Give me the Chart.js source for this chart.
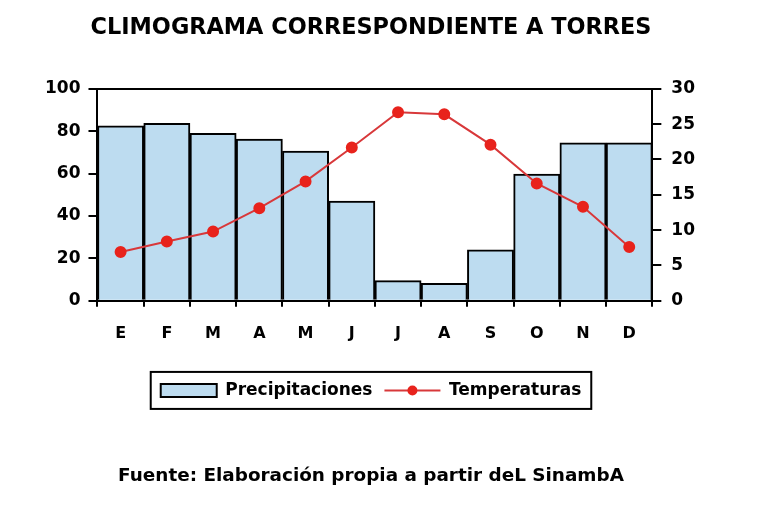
<!DOCTYPE html>
<html>
<head>
<meta charset="utf-8">
<script src="https://cdn.jsdelivr.net/npm/chart.js@4"></script>
<style>
  html, body { margin: 0; padding: 0; background: #fff; }
  #wrap { width: 767px; height: 507px; }
</style>
</head>
<body>
<div id="wrap"><canvas id="main-chart" width="767" height="507"></canvas></div>
<script>
// ── Data ─────────────────────────────────────────────────────────────────────
const MONTHS = ["E", "F", "M", "A", "M", "J", "J", "A", "S", "O", "N", "D"];
const PRECIPITACIONES = [82.5, 83.7, 79, 76.3, 70.6, 47, 9.5, 8.2, 24, 59.8, 74.5, 74.5];
const TEMPERATURAS = [6.9, 8.4, 9.8, 13.1, 16.9, 21.7, 26.7, 26.4, 22.1, 16.6, 13.3, 7.6];
const PREC_TICKS = [0, 20, 40, 60, 80, 100];
const TEMP_TICKS = [0, 5, 10, 15, 20, 25, 30];

const FONT = "'DejaVu Sans', sans-serif";
const BAR_FILL = "#bddcf0";
const LINE_RED = "#d8383a";
const DOT_RED = "#e8231c";

// ── Legend box + line/dot marker ─────────────────────────────────────────────
const legendDecor = {
  id: "legendDecor",
  afterDraw(chart) {
    const lg = chart.legend;
    if (!lg || !lg.legendHitBoxes || !lg.legendHitBoxes.length) return;
    const boxes = lg.legendHitBoxes;
    const ctx = chart.ctx;
    const first = boxes[0], last = boxes[boxes.length - 1];
    const x0 = first.left - 10, x1 = last.left + last.width + 10;
    const y0 = first.top - 10, y1 = first.top + first.height + 10;
    ctx.save();
    ctx.strokeStyle = "#000";
    ctx.lineWidth = 2;
    ctx.strokeRect(x0, y0, x1 - x0, y1 - y0);
    // line item marker
    const b = boxes[1];
    const bw = lg.options.labels.boxWidth;
    const cy = b.top + b.height / 2;
    ctx.strokeStyle = LINE_RED;
    ctx.lineWidth = 2;
    ctx.beginPath();
    ctx.moveTo(b.left, cy);
    ctx.lineTo(b.left + bw, cy);
    ctx.stroke();
    ctx.fillStyle = DOT_RED;
    ctx.beginPath();
    ctx.arc(b.left + bw / 2, cy, 5, 0, Math.PI * 2);
    ctx.fill();
    ctx.restore();
  }
};

// ── Chart ────────────────────────────────────────────────────────────────────
function renderChart() {
  const ctx = document.getElementById("main-chart");
  new Chart(ctx, {
    data: {
      labels: MONTHS,
      datasets: [
        {
          type: "line",
          label: "Temperaturas",
          data: TEMPERATURAS,
          yAxisID: "y1",
          borderColor: LINE_RED,
          backgroundColor: DOT_RED,
          pointBackgroundColor: DOT_RED,
          pointBorderColor: DOT_RED,
          pointRadius: 5,
          borderWidth: 2,
          tension: 0,
          order: 0,
        },
        {
          type: "bar",
          label: "Precipitaciones",
          data: PRECIPITACIONES,
          yAxisID: "y",
          backgroundColor: BAR_FILL,
          borderColor: "#000",
          borderWidth: 2,
          categoryPercentage: 1,
          barPercentage: 1,
          order: 1,
        },
      ],
    },
    options: {
      responsive: false,
      animation: false,
      layout: { padding: { left: 37, right: 62, top: 0, bottom: 8 } },
      plugins: {
        title: {
          display: true,
          text: "CLIMOGRAMA CORRESPONDIENTE A TORRES",
          color: "#000",
          font: { family: FONT, size: 22.4, weight: "bold" },
          padding: { top: 15, bottom: 47 },
        },
        subtitle: {
          display: true,
          position: "bottom",
          text: "Fuente: Elaboración propia a partir deL SinambA",
          color: "#000",
          font: { family: FONT, size: 18.4, weight: "bold" },
          padding: { top: 56, bottom: 12 },
        },
        legend: {
          position: "bottom",
          reverse: true,
          labels: {
            color: "#000",
            font: { family: FONT, size: 17, weight: "bold" },
            boxWidth: 56,
            boxHeight: 13,
            padding: 12,
            generateLabels(chart) {
              const items = Chart.defaults.plugins.legend.labels.generateLabels(chart);
              items.forEach(it => {
                it.lineWidth = 2;
                if (it.text === "Temperaturas") {
                  it.fillStyle = "rgba(0,0,0,0)";
                  it.strokeStyle = "rgba(0,0,0,0)";
                } else {
                  it.fillStyle = BAR_FILL;
                  it.strokeStyle = "#000";
                }
              });
              return items;
            },
          },
        },
        tooltip: { enabled: false },
      },
      scales: {
        x: {
          offset: true,
          afterFit(axis) { axis.height += 8; },
          grid: { offset: true, drawOnChartArea: false, color: "#000", tickLength: 6, lineWidth: 2 },
          border: { display: true, color: "#000", width: 2 },
          ticks: { color: "#000", padding: 18, font: { family: FONT, size: 16, weight: "bold" } },
        },
        y: {
          position: "left",
          min: 0,
          max: 100,
          afterBuildTicks(axis) { axis.ticks = PREC_TICKS.map(v => ({ value: v })); },
          grid: {
            color: c => (c.tick && c.tick.value === 100 ? "#000" : "rgba(0,0,0,0)"),
            tickColor: "#000",
            tickLength: 9,
            lineWidth: 2,
          },
          border: { display: true, color: "#000", width: 2 },
          ticks: { color: "#000", padding: 8, font: { family: FONT, size: 17, weight: "bold" } },
        },
        y1: {
          position: "right",
          min: 0,
          max: 30,
          afterBuildTicks(axis) { axis.ticks = TEMP_TICKS.map(v => ({ value: v })); },
          grid: { drawOnChartArea: false, tickColor: "#000", tickLength: 9, lineWidth: 2 },
          border: { display: true, color: "#000", width: 2 },
          ticks: { color: "#000", padding: 10, font: { family: FONT, size: 17, weight: "bold" } },
        },
      },
    },
    plugins: [legendDecor],
  });
}

document.addEventListener("DOMContentLoaded", renderChart);
</script>
</body>
</html>
